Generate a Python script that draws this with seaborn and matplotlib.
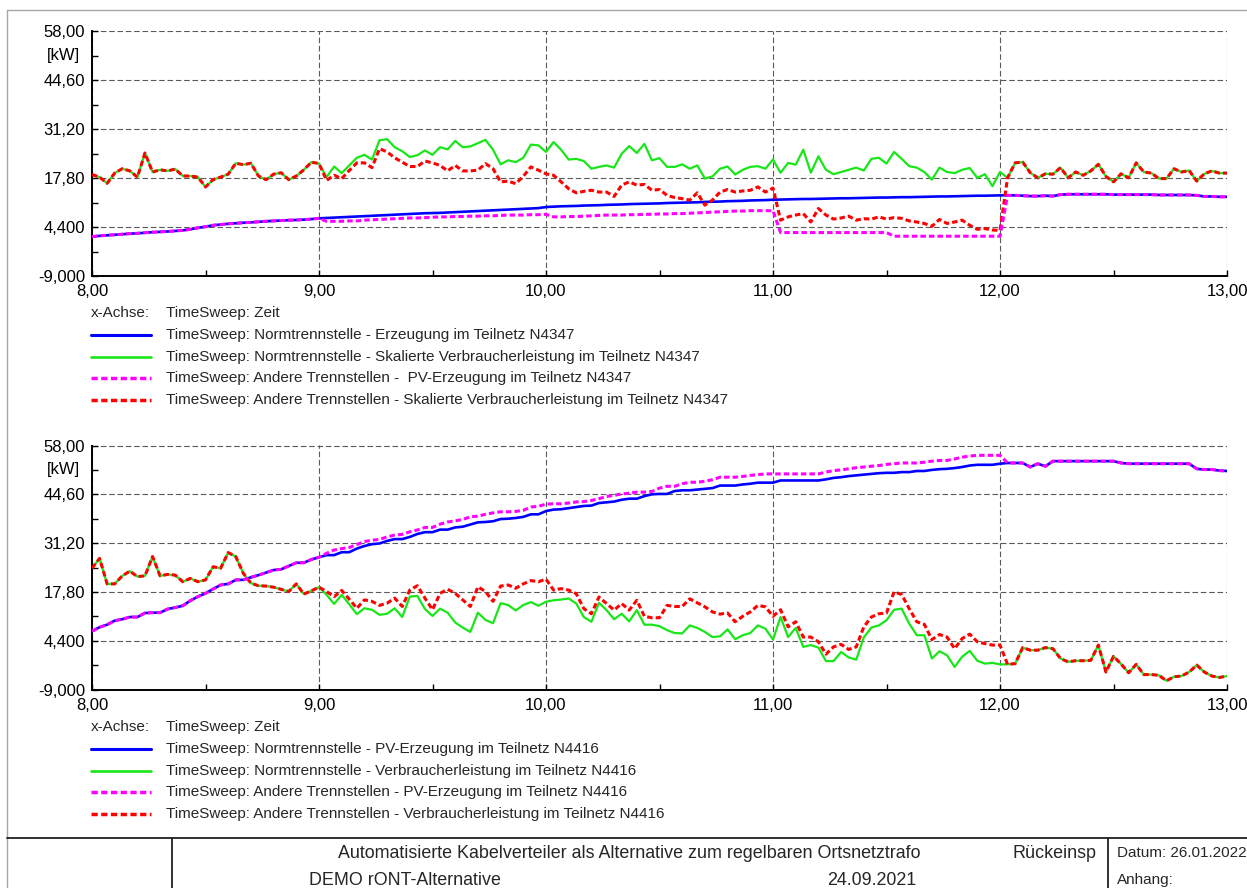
import numpy as np
import matplotlib
matplotlib.use("Agg")
import matplotlib.pyplot as plt
import seaborn as sns
from matplotlib.lines import Line2D
from matplotlib.ticker import FixedLocator, FixedFormatter

# ---------------------------------------------------------------------------
# Time axis: 8:00 - 13:00 in 2-minute steps
# ---------------------------------------------------------------------------
minutes = np.arange(0, 302, 2)
hours = 8 + minutes / 60.0

x_ticks = [8, 9, 10, 11, 12, 13]
x_tick_labels = ["8,00", "9,00", "10,00", "11,00", "12,00", "13,00"]
y_ticks = [58.0, 44.6, 31.2, 17.8, 4.4, -9.0]
y_tick_labels = ["58,00", "44,60", "31,20", "17,80", "4,400", "-9,000"]
y_unit = "[kW]"

# ---------------------------------------------------------------------------
# Teilnetz N4347 [kW]
# ---------------------------------------------------------------------------
n4347_erzeugung = [
    1.8, 2.0, 2.15, 2.3, 2.45, 2.6, 2.7, 2.85, 3.0, 3.1, 3.2, 3.35, 3.5, 3.8, 4.2, 4.5,
    4.9, 5.1, 5.3, 5.45, 5.6, 5.7, 5.85, 6.0, 6.1, 6.2, 6.3, 6.35, 6.45, 6.6, 6.8,
    6.9, 7.0, 7.1, 7.2, 7.3, 7.4, 7.5, 7.6, 7.7, 7.8, 7.9, 8.0, 8.1, 8.2, 8.25,
    8.3, 8.4, 8.5, 8.6, 8.7, 8.8, 8.9, 9.0, 9.1, 9.2, 9.3, 9.4, 9.5, 9.6, 9.9,
    10.0, 10.1, 10.15, 10.2, 10.3, 10.35, 10.4, 10.5, 10.55, 10.6, 10.7, 10.75, 10.8, 10.85, 10.9,
    11.0, 11.05, 11.1, 11.15, 11.2, 11.3, 11.35, 11.4, 11.5, 11.55, 11.6, 11.7, 11.75, 11.8, 11.9,
    11.95, 12.0, 12.05, 12.1, 12.1, 12.15, 12.2, 12.25, 12.3, 12.3, 12.35, 12.4, 12.45, 12.5, 12.5,
    12.55, 12.6, 12.6, 12.65, 12.7, 12.75, 12.8, 12.8, 12.85, 12.9, 12.95, 13.0, 13.0, 13.05, 13.1,
    13.1, 13.1, 13.0, 12.9, 12.9, 13.0, 12.9, 13.3, 13.4, 13.4, 13.4, 13.4, 13.4, 13.4, 13.3,
    13.3, 13.3, 13.3, 13.3, 13.3, 13.2, 13.2, 13.2, 13.2, 13.2, 13.1, 12.8, 12.8, 12.7, 12.7,
]
n4347_verbrauch = [
    18.8, 18.1, 16.4, 19.2, 20.4, 19.8, 18.1, 24.7, 19.5, 20.1, 19.8, 20.3, 18.4, 18.4, 18.1, 15.4,
    17.4, 18.1, 18.9, 21.9, 21.5, 21.9, 18.4, 17.4, 18.9, 19.3, 17.4, 18.4, 20.1, 22.2, 21.8,
    18.1, 21.0, 19.2, 21.3, 23.4, 24.2, 22.9, 28.2, 28.5, 26.3, 25.2, 23.6, 24.1, 25.4, 24.2,
    26.3, 25.7, 28.0, 26.3, 26.5, 27.4, 28.3, 25.6, 21.6, 22.7, 22.2, 23.4, 27.0, 26.8, 25.0,
    27.7, 25.6, 22.9, 23.1, 22.5, 20.4, 20.9, 21.3, 20.7, 24.5, 26.6, 24.7, 27.2, 22.7, 23.3,
    20.9, 20.9, 21.6, 20.4, 21.3, 17.7, 18.3, 20.4, 21.0, 18.8, 20.1, 20.9, 21.1, 20.4, 22.9,
    19.3, 22.0, 21.5, 25.6, 19.3, 23.8, 20.1, 18.9, 19.5, 20.1, 20.7, 19.9, 23.1, 23.4, 21.8,
    25.0, 23.1, 21.1, 20.7, 19.5, 17.4, 20.7, 19.5, 19.2, 20.1, 20.6, 17.9, 18.9, 15.6, 19.5,
    17.9, 22.0, 22.2, 19.3, 17.9, 19.0, 18.9, 20.7, 17.9, 19.5, 18.6, 19.8, 21.6, 18.3, 16.8,
    19.0, 17.9, 22.0, 19.5, 19.2, 17.7, 17.7, 20.4, 19.5, 19.9, 17.0, 19.0, 19.8, 19.2, 19.2,
]
# other separation points differ from the standard one between 9:02 and 12:00
n4347_pv_andere_9_12 = [
    6.0, 6.0, 6.0, 6.1, 6.1, 6.3, 6.4, 6.5, 6.6, 6.7, 6.8, 6.9, 6.9, 7.0, 7.1,
    7.2, 7.2, 7.3, 7.3, 7.4, 7.4, 7.5, 7.5, 7.6, 7.7, 7.7, 7.7, 7.8, 7.8, 7.9,
    7.2, 7.2, 7.3, 7.3, 7.4, 7.5, 7.6, 7.7, 7.7, 7.7, 7.8, 7.8, 7.9, 7.9, 8.0,
    8.0, 8.1, 8.1, 8.2, 8.3, 8.4, 8.5, 8.6, 8.7, 8.8, 8.8, 8.9, 8.9, 8.9, 8.9,
    2.9, 2.9, 2.9, 2.9, 2.9, 2.9, 2.9, 2.9, 2.9, 2.9, 2.9, 2.9, 2.9, 2.9, 2.9,
    1.9, 1.9, 1.9, 1.9, 1.9, 1.9, 1.9, 1.9, 1.9, 1.9, 1.9, 1.9, 1.9, 1.9, 1.9,
]
n4347_verbrauch_andere_9_12 = [
    17.2, 18.6, 17.7, 19.9, 22.0, 22.0, 20.7, 25.9, 25.0, 23.4, 22.2, 21.0, 21.0, 22.5, 22.0,
    21.3, 19.8, 21.3, 19.8, 19.8, 20.0, 21.8, 20.4, 16.8, 17.0, 16.3, 18.3, 20.9, 20.0, 19.0,
    18.6, 16.8, 14.9, 13.8, 14.2, 14.5, 14.0, 14.0, 12.8, 15.9, 16.8, 15.9, 16.1, 14.5, 14.7,
    13.1, 12.5, 12.2, 11.8, 13.8, 10.4, 11.8, 14.0, 14.7, 14.0, 14.3, 14.5, 15.4, 14.0, 15.1,
    6.3, 7.2, 7.7, 8.1, 5.8, 9.5, 7.7, 6.6, 6.9, 7.4, 6.3, 6.7, 6.6, 7.2, 6.6,
    7.0, 6.8, 6.1, 5.8, 5.4, 4.6, 6.5, 5.4, 5.8, 6.3, 4.9, 3.8, 4.0, 3.6, 3.5,
]

# ---------------------------------------------------------------------------
# Teilnetz N4416 [kW]
# ---------------------------------------------------------------------------
n4416_pv = [
    7.0, 8.1, 8.8, 9.9, 10.3, 10.9, 10.9, 12.0, 12.1, 12.1, 13.1, 13.5, 14.0, 15.4, 16.5, 17.4,
    18.6, 19.7, 20.0, 21.1, 21.1, 21.8, 22.4, 23.1, 23.8, 24.0, 24.9, 25.8, 25.8, 26.7, 27.3,
    27.9, 27.9, 28.7, 28.7, 29.7, 30.4, 30.9, 31.1, 31.8, 32.3, 32.3, 32.9, 33.7, 34.2, 34.2,
    34.9, 34.9, 35.5, 35.7, 36.3, 36.9, 37.0, 37.2, 37.8, 37.9, 38.1, 38.4, 39.1, 39.1, 40.0,
    40.4, 40.5, 40.8, 41.1, 41.4, 41.5, 42.2, 42.4, 42.6, 43.1, 43.4, 43.4, 44.1, 44.6, 44.7,
    44.7, 45.5, 45.7, 45.7, 45.9, 46.1, 46.3, 47.0, 47.0, 47.0, 47.3, 47.5, 47.8, 47.8, 47.8,
    48.4, 48.4, 48.4, 48.4, 48.4, 48.4, 48.7, 49.1, 49.3, 49.6, 49.8, 50.0, 50.2, 50.4, 50.5,
    50.5, 50.7, 50.7, 51.0, 51.0, 51.3, 51.5, 51.6, 51.8, 52.1, 52.5, 52.7, 52.7, 52.7, 53.0,
    53.2, 53.2, 53.2, 52.1, 53.0, 52.3, 53.7, 53.7, 53.7, 53.7, 53.7, 53.7, 53.7, 53.7, 53.7,
    53.2, 53.0, 53.0, 53.0, 53.0, 53.0, 53.0, 53.0, 53.0, 53.0, 51.6, 51.4, 51.4, 51.1, 51.0,
]
n4416_verbrauch = [
    24.3, 27.0, 20.0, 20.0, 22.2, 23.5, 22.0, 22.2, 27.5, 22.2, 22.6, 22.4, 20.6, 21.5, 20.6, 21.1,
    24.7, 24.3, 28.6, 27.5, 22.9, 20.2, 19.5, 19.4, 19.1, 18.5, 17.9, 20.0, 17.2, 18.1, 19.1,
    17.0, 14.5, 17.0, 14.4, 11.7, 13.3, 12.9, 11.5, 11.8, 13.3, 10.9, 16.5, 16.7, 13.1, 11.2,
    13.2, 12.1, 9.4, 8.0, 6.8, 12.1, 10.1, 9.2, 14.7, 14.2, 12.7, 14.2, 15.0, 14.0, 15.1,
    15.5, 15.7, 16.0, 14.6, 10.9, 9.6, 14.8, 12.8, 10.3, 11.8, 9.7, 12.8, 8.8, 8.8, 8.4,
    7.3, 6.5, 6.4, 8.6, 7.9, 6.8, 5.4, 5.6, 7.5, 4.8, 5.9, 6.5, 8.6, 7.7, 4.7,
    10.9, 5.4, 7.9, 2.7, 3.2, 2.5, -1.2, -1.2, 1.3, -0.2, -0.8, 5.3, 8.0, 8.6, 10.0,
    12.9, 13.2, 9.1, 5.9, 5.9, -0.5, 1.5, 0.4, -2.8, 0.0, 1.6, -1.1, -1.9, -1.7, -2.1,
    -2.1, -1.9, 2.5, 1.8, 1.8, 2.5, 2.2, -0.5, -1.4, -1.1, -1.1, -1.0, 3.2, -4.2, 0.1,
    -2.0, -4.4, -2.1, -4.9, -4.9, -5.1, -6.6, -5.5, -5.3, -4.2, -2.3, -4.2, -5.3, -5.7, -5.3,
]
n4416_pv_andere_9_12 = [
    28.4, 29.3, 29.7, 30.0, 30.8, 31.6, 32.0, 32.2, 32.9, 33.4, 33.6, 34.3, 34.8, 35.5, 35.5,
    36.4, 37.0, 37.3, 37.7, 38.4, 38.6, 39.1, 39.5, 39.8, 39.8, 39.9, 40.2, 41.1, 41.3, 41.9,
    42.0, 42.0, 42.2, 42.5, 42.6, 42.9, 43.4, 44.0, 44.3, 44.7, 44.9, 45.2, 45.2, 45.4, 46.3,
    46.8, 46.8, 47.5, 47.9, 47.9, 48.2, 48.6, 49.3, 49.3, 49.3, 49.5, 49.8, 50.0, 50.2, 50.2,
    50.2, 50.2, 50.2, 50.2, 50.2, 50.2, 50.7, 51.1, 51.3, 51.6, 51.9, 52.1, 52.3, 52.5, 52.8,
    53.0, 53.2, 53.2, 53.2, 53.4, 53.7, 53.9, 53.9, 54.3, 54.8, 55.1, 55.3, 55.3, 55.3, 55.3,
]
n4416_verbrauch_andere_9_12 = [
    17.9, 16.5, 18.2, 15.8, 13.3, 15.6, 15.2, 14.1, 14.7, 16.1, 13.8, 18.3, 19.5, 16.1, 12.9,
    17.4, 18.5, 17.4, 15.6, 13.8, 19.2, 17.9, 15.2, 19.4, 19.7, 18.8, 20.0, 20.9, 20.6, 21.3,
    18.3, 18.7, 18.3, 17.3, 13.2, 11.8, 16.4, 14.6, 12.8, 14.6, 12.8, 15.5, 11.1, 10.7, 10.7,
    14.1, 13.8, 13.8, 15.9, 14.8, 13.7, 12.3, 11.7, 12.0, 9.6, 11.1, 12.3, 14.1, 13.7, 11.1,
    12.9, 8.2, 9.6, 5.4, 5.4, 4.1, 0.7, 2.7, 3.4, 2.0, 2.7, 8.2, 10.9, 11.8, 12.0,
    17.8, 17.1, 13.2, 9.6, 8.9, 4.7, 6.1, 5.4, 2.2, 5.0, 6.2, 4.1, 3.6, 3.2, 3.2,
]


def splice(base, segment):
    """Outside 9:02-12:00 both separation variants coincide with the standard one."""
    base = np.asarray(base, dtype=float)
    return np.concatenate([base[:31], np.asarray(segment, dtype=float), base[121:]])


top_series = [
    ("TimeSweep: Normtrennstelle - Erzeugung im Teilnetz N4347", np.asarray(n4347_erzeugung), "blue"),
    ("TimeSweep: Normtrennstelle - Skalierte Verbraucherleistung im Teilnetz N4347", np.asarray(n4347_verbrauch), "green"),
    ("TimeSweep: Andere Trennstellen -  PV-Erzeugung im Teilnetz N4347", splice(n4347_erzeugung, n4347_pv_andere_9_12), "magenta"),
    ("TimeSweep: Andere Trennstellen - Skalierte Verbraucherleistung im Teilnetz N4347", splice(n4347_verbrauch, n4347_verbrauch_andere_9_12), "red"),
]
bottom_series = [
    ("TimeSweep: Normtrennstelle - PV-Erzeugung im Teilnetz N4416", np.asarray(n4416_pv), "blue"),
    ("TimeSweep: Normtrennstelle - Verbraucherleistung im Teilnetz N4416", np.asarray(n4416_verbrauch), "green"),
    ("TimeSweep: Andere Trennstellen - PV-Erzeugung im Teilnetz N4416", splice(n4416_pv, n4416_pv_andere_9_12), "magenta"),
    ("TimeSweep: Andere Trennstellen - Verbraucherleistung im Teilnetz N4416", splice(n4416_verbrauch, n4416_verbrauch_andere_9_12), "red"),
]

# ---------------------------------------------------------------------------
# Styling
# ---------------------------------------------------------------------------
sns.set_theme(style="white")
plt.rcParams["font.family"] = ["Liberation Sans", "DejaVu Sans"]

DOT = (0, (1.8, 1.0))
STYLES = {
    "blue": dict(color="#0000FF", linewidth=1.9, linestyle="-", zorder=3),
    "green": dict(color="#19E619", linewidth=1.6, linestyle="-", zorder=2),
    "magenta": dict(color="#FF00FF", linewidth=2.2, linestyle=DOT, zorder=5),
    "red": dict(color="#FF0000", linewidth=2.2, linestyle=DOT, zorder=4),
}

W, H = 1247, 888
fig = plt.figure(figsize=(W / 100, H / 100), dpi=100)
fig.patch.set_facecolor("white")


def fx(x):
    return x / W


def fy(y):
    return 1 - y / H


def make_axes(top_px, bottom_px):
    left_px, right_px = 92, 1227
    return fig.add_axes([fx(left_px), fy(bottom_px), fx(right_px - left_px), (bottom_px - top_px) / H])


def style_axes(ax):
    ax.set_xlim(8, 13)
    ax.set_ylim(-9, 58)
    ax.set_facecolor("white")
    ax.xaxis.set_major_locator(FixedLocator(x_ticks))
    ax.xaxis.set_major_formatter(FixedFormatter(x_tick_labels))
    ax.xaxis.set_minor_locator(FixedLocator([8.5, 9.5, 10.5, 11.5, 12.5]))
    ax.yaxis.set_major_locator(FixedLocator(y_ticks))
    ax.yaxis.set_major_formatter(FixedFormatter(y_tick_labels))
    ax.yaxis.set_minor_locator(FixedLocator([51.3, 37.9, 24.5, 11.1, -2.3]))
    ax.tick_params(which="both", direction="in", length=4.5, width=1.0, color="black",
                   labelsize=12, labelcolor="black")
    ax.tick_params(axis="y", which="both", pad=5)
    ax.tick_params(axis="x", which="both", pad=6)
    ax.tick_params(which="both", left=True, bottom=True, top=False, right=False)
    ax.grid(True, which="major", color="#5a5a5a", linewidth=0.8, linestyle=(0, (5, 2.5)))
    for side in ("top", "right"):
        ax.spines[side].set_visible(False)
    for side in ("left", "bottom"):
        ax.spines[side].set_visible(True)
        ax.spines[side].set_color("black")
        ax.spines[side].set_linewidth(1.4)
    ax.set_xlabel("")
    ax.set_ylabel("")
    # unit label sits at the first minor tick
    ax.text(-0.025, 51.3, y_unit, transform=ax.get_yaxis_transform(),
            ha="center", va="center", fontsize=12, color="black")


def draw_series(ax, series):
    for label, values, key in series:
        sns.lineplot(x=hours, y=values, ax=ax, legend=False, errorbar=None, **STYLES[key])


def draw_legend(series, first_row_px):
    rows = [first_row_px + i * 21.8 for i in range(5)]
    fig.text(fx(91), fy(rows[0]), "x-Achse:", ha="left", va="center", fontsize=11)
    fig.text(fx(166), fy(rows[0]), "TimeSweep: Zeit", ha="left", va="center", fontsize=11)
    for row, (label, _, key) in zip(rows[1:], series):
        st = STYLES[key]
        fig.add_artist(Line2D([fx(91), fx(151)], [fy(row), fy(row)], transform=fig.transFigure,
                              color=st["color"], linewidth=st["linewidth"] + 0.3,
                              linestyle=st["linestyle"]))
        fig.text(fx(166), fy(row), label, ha="left", va="center", fontsize=11)


ax_top = make_axes(31.5, 276)
draw_series(ax_top, top_series)
style_axes(ax_top)

ax_bottom = make_axes(445.5, 689.5)
draw_series(ax_bottom, bottom_series)
style_axes(ax_bottom)

draw_legend(top_series, 313)
draw_legend(bottom_series, 727)

# ---------------------------------------------------------------------------
# Page frame and title block
# ---------------------------------------------------------------------------
frame = dict(transform=fig.transFigure, color="#a6a6a6", linewidth=1.0)
fig.add_artist(Line2D([fx(7), fx(W)], [fy(10), fy(10)], **frame))
fig.add_artist(Line2D([fx(7), fx(7)], [fy(10), fy(H)], **frame))

block = dict(transform=fig.transFigure, color="#202020", linewidth=1.3)
fig.add_artist(Line2D([fx(7), fx(W)], [fy(837.5), fy(837.5)], **block))
fig.add_artist(Line2D([fx(172), fx(172)], [fy(837.5), fy(H)], **block))
fig.add_artist(Line2D([fx(1108), fx(1108)], [fy(837.5), fy(H)], **block))

fig.text(fx(921), fy(853), "Automatisierte Kabelverteiler als Alternative zum regelbaren Ortsnetztrafo",
         ha="right", va="center", fontsize=12.9)
fig.text(fx(1012), fy(853), "Rückeinsp", ha="left", va="center", fontsize=12.9)
fig.text(fx(1117), fy(853), "Datum: 26.01.2022", ha="left", va="center", fontsize=11)
fig.text(fx(309), fy(880), "DEMO rONT-Alternative", ha="left", va="center", fontsize=12.9)
fig.text(fx(916), fy(880), "24.09.2021", ha="right", va="center", fontsize=12.9)
fig.text(fx(1117), fy(880), "Anhang:", ha="left", va="center", fontsize=11)

fig.savefig("out.png", dpi=100, facecolor="white")
